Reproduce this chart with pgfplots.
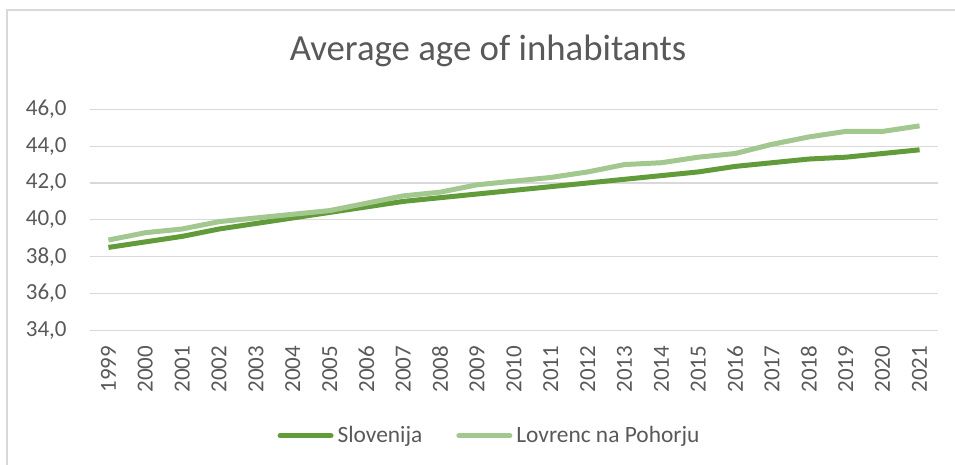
\documentclass[border=0pt]{standalone}
\usepackage{fontspec}
\setmainfont{Carlito}
\usepackage{pgfplots}
\pgfplotsset{compat=1.18}

\definecolor{slo}{HTML}{629B3A}
\definecolor{lov}{HTML}{A2C78F}
\definecolor{gridc}{HTML}{D9D9D9}
\definecolor{txt}{HTML}{595959}

% 1 px of the reference = 0.5pt
\begin{document}
\begin{tikzpicture}
\path[use as bounding box] (0pt,0pt) rectangle (477.5pt,-232.5pt);
\draw[gridc, line width=0.6pt] (3.5pt,-232.5pt) -- (3.5pt,-5pt) -- (477.5pt,-5pt);
\node[anchor=base, font=\fontsize{18.4}{22}\selectfont, text=txt]
  at (244pt,-30.5pt) {Average age of inhabitants};
\begin{axis}[
    at={(45pt,-165.15pt)}, anchor=south west,
    scale only axis,
    width=424pt, height=110.5pt,
    xmin=1998.5, xmax=2021.5,
    ymin=34, ymax=46,
    xtick={1999,...,2021},
    ytick={34,36,...,46},
    axis line style={draw=none},
    major tick length=0pt,
    ymajorgrids,
    grid style={gridc, line width=0.6pt},
    /pgf/number format/assume math mode=true,
    tick label style={font=\fontsize{11.5}{13}\selectfont, text=txt},
    xticklabel style={rotate=90, anchor=east, inner sep=0pt, xshift=-7.5pt,
        /pgf/number format/1000 sep={}},
    yticklabel style={anchor=east, inner sep=0pt, xshift=-11.5pt,
        /pgf/number format/.cd, fixed, fixed zerofill, precision=1, use comma},
    legend columns=2,
    legend style={at={(0.4723,-0.477)}, anchor=center, draw=none, fill=none,
        inner sep=0pt, font=\fontsize{11.7}{14}\selectfont, text=txt,
        /tikz/every even column/.append style={column sep=15pt}},
    legend image code/.code={\draw[#1, line cap=round] (1.25pt,0pt) -- (26.75pt,0pt);},
    every axis plot/.append style={line width=2.5pt, line join=round, no markers},
]
\addplot[slo] coordinates {
(1999,38.5) (2000,38.8) (2001,39.1) (2002,39.5) (2003,39.8) (2004,40.1)
(2005,40.4) (2006,40.7) (2007,41.0) (2008,41.2) (2009,41.4) (2010,41.6)
(2011,41.8) (2012,42.0) (2013,42.2) (2014,42.4) (2015,42.6) (2016,42.9)
(2017,43.1) (2018,43.3) (2019,43.4) (2020,43.6) (2021,43.8)
};
\addlegendentry{Slovenija}
\addplot[lov] coordinates {
(1999,38.9) (2000,39.3) (2001,39.5) (2002,39.9) (2003,40.1) (2004,40.3)
(2005,40.5) (2006,40.9) (2007,41.3) (2008,41.5) (2009,41.9) (2010,42.1)
(2011,42.3) (2012,42.6) (2013,43.0) (2014,43.1) (2015,43.4) (2016,43.6)
(2017,44.1) (2018,44.5) (2019,44.8) (2020,44.8) (2021,45.1)
};
\addlegendentry{Lovrenc na Pohorju}
\end{axis}
\end{tikzpicture}
\end{document}
